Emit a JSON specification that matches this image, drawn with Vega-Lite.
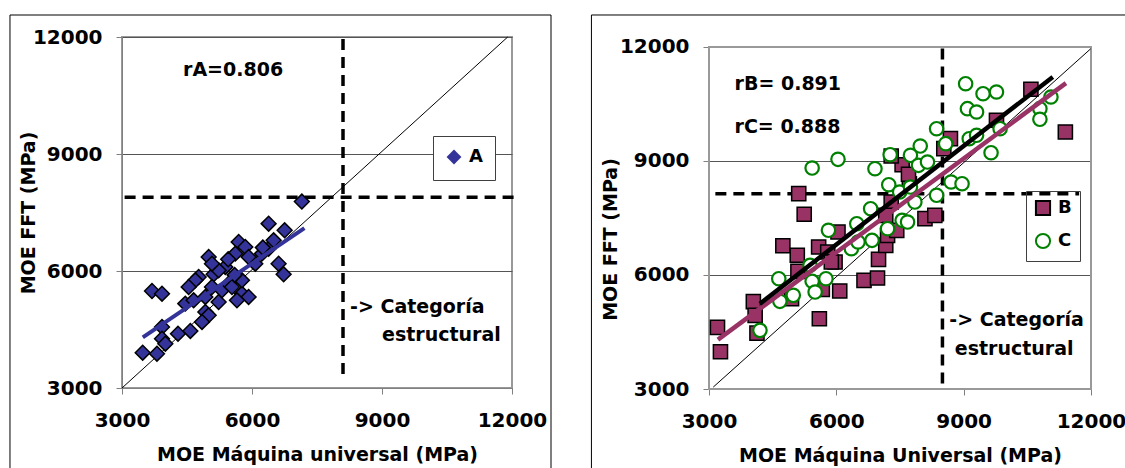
{
  "$schema": "https://vega.github.io/schema/vega-lite/v6.json",
  "background": "white",
  "padding": {"left": 8, "top": 13, "right": 0, "bottom": 0},
  "spacing": 37,
  "config": {
    "font": "DejaVu Sans",
    "view": {"stroke": "#999999", "strokeWidth": 2},
    "axis": {"labelFontSize": 20, "labelFontWeight": "bold", "labelColor": "black", "titleFontSize": 19, "titleFontWeight": "bold", "titleColor": "black", "tickColor": "#808080", "domainColor": "#808080", "tickSize": 6, "grid": false, "labelFlush": false, "labelOverlap": false, "format": "d"},
    "legend": {"labelFontSize": 18, "labelFontWeight": "bold", "labelColor": "black", "strokeColor": "#404040", "labelOffset": 6}
  },
  "resolve": {"scale": {"x": "independent", "y": "independent", "shape": "independent", "fill": "independent", "stroke": "independent"}, "legend": {"shape": "independent", "fill": "independent", "stroke": "independent"}},
  "datasets": {
    "A": [
      {"serie": "A", "x": 7150, "y": 7780}, {"serie": "A", "x": 6384, "y": 7214}, {"serie": "A", "x": 6753, "y": 7043}, {"serie": "A", "x": 5692, "y": 6744},
      {"serie": "A", "x": 5845, "y": 6616}, {"serie": "A", "x": 5615, "y": 6445}, {"serie": "A", "x": 5000, "y": 6359}, {"serie": "A", "x": 6384, "y": 6573},
      {"serie": "A", "x": 6614, "y": 6188}, {"serie": "A", "x": 6730, "y": 5915}, {"serie": "A", "x": 5115, "y": 5915}, {"serie": "A", "x": 4769, "y": 5846},
      {"serie": "A", "x": 4692, "y": 5761}, {"serie": "A", "x": 4538, "y": 5590}, {"serie": "A", "x": 5384, "y": 6103}, {"serie": "A", "x": 5768, "y": 5419},
      {"serie": "A", "x": 5922, "y": 5334}, {"serie": "A", "x": 5653, "y": 5248}, {"serie": "A", "x": 5230, "y": 5205}, {"serie": "A", "x": 3692, "y": 5487},
      {"serie": "A", "x": 3923, "y": 5419}, {"serie": "A", "x": 4461, "y": 5163}, {"serie": "A", "x": 4923, "y": 4949}, {"serie": "A", "x": 5000, "y": 4863},
      {"serie": "A", "x": 4846, "y": 4693}, {"serie": "A", "x": 4577, "y": 4462}, {"serie": "A", "x": 4292, "y": 4393}, {"serie": "A", "x": 3923, "y": 4564},
      {"serie": "A", "x": 3923, "y": 4265}, {"serie": "A", "x": 4000, "y": 4137}, {"serie": "A", "x": 3477, "y": 3906}, {"serie": "A", "x": 3807, "y": 3880},
      {"serie": "A", "x": 5076, "y": 5590}, {"serie": "A", "x": 5307, "y": 5504}, {"serie": "A", "x": 5461, "y": 5675}, {"serie": "A", "x": 4923, "y": 5334},
      {"serie": "A", "x": 4653, "y": 5248}, {"serie": "A", "x": 6076, "y": 6188}, {"serie": "A", "x": 6230, "y": 6445}, {"serie": "A", "x": 6499, "y": 6787},
      {"serie": "A", "x": 5538, "y": 5590}, {"serie": "A", "x": 5230, "y": 6017}, {"serie": "A", "x": 5076, "y": 6188}, {"serie": "A", "x": 5768, "y": 5761},
      {"serie": "A", "x": 5922, "y": 6359}, {"serie": "A", "x": 5600, "y": 5900}, {"serie": "A", "x": 6250, "y": 6600}, {"serie": "A", "x": 5450, "y": 6300}
    ],
    "BC": [
      {"serie": "B", "x": 3200, "y": 4620}, {"serie": "B", "x": 3270, "y": 3980}, {"serie": "B", "x": 4045, "y": 5300}, {"serie": "B", "x": 4087, "y": 4938},
      {"serie": "B", "x": 4130, "y": 4470}, {"serie": "B", "x": 4740, "y": 6770}, {"serie": "B", "x": 5080, "y": 6520}, {"serie": "B", "x": 5114, "y": 8140},
      {"serie": "B", "x": 5243, "y": 7600}, {"serie": "B", "x": 5095, "y": 6096}, {"serie": "B", "x": 4944, "y": 5375}, {"serie": "B", "x": 5600, "y": 4850},
      {"serie": "B", "x": 5583, "y": 6736}, {"serie": "B", "x": 5798, "y": 6604}, {"serie": "B", "x": 5970, "y": 6341}, {"serie": "B", "x": 6039, "y": 7131},
      {"serie": "B", "x": 6080, "y": 5580}, {"serie": "B", "x": 5670, "y": 5620}, {"serie": "B", "x": 6652, "y": 5859}, {"serie": "B", "x": 6970, "y": 5920},
      {"serie": "B", "x": 6994, "y": 6412}, {"serie": "B", "x": 7164, "y": 6781}, {"serie": "B", "x": 7207, "y": 7044}, {"serie": "B", "x": 7423, "y": 7176},
      {"serie": "B", "x": 7293, "y": 7920}, {"serie": "B", "x": 8088, "y": 7482}, {"serie": "B", "x": 8320, "y": 7570}, {"serie": "B", "x": 7721, "y": 8402},
      {"serie": "B", "x": 7550, "y": 8902}, {"serie": "B", "x": 7293, "y": 9131}, {"serie": "B", "x": 8688, "y": 9587}, {"serie": "B", "x": 8532, "y": 9324},
      {"serie": "B", "x": 9773, "y": 10071}, {"serie": "B", "x": 10584, "y": 10887}, {"serie": "B", "x": 11396, "y": 9763}, {"serie": "B", "x": 7164, "y": 7570},
      {"serie": "B", "x": 7700, "y": 8650}, {"serie": "B", "x": 5882, "y": 6341},
      {"serie": "C", "x": 4201, "y": 4543}, {"serie": "C", "x": 4644, "y": 5902}, {"serie": "C", "x": 4670, "y": 5307}, {"serie": "C", "x": 4986, "y": 5465},
      {"serie": "C", "x": 5430, "y": 8815}, {"serie": "C", "x": 6039, "y": 9044}, {"serie": "C", "x": 5380, "y": 6254}, {"serie": "C", "x": 5430, "y": 5833},
      {"serie": "C", "x": 5500, "y": 5552}, {"serie": "C", "x": 5755, "y": 5902}, {"serie": "C", "x": 5814, "y": 7176}, {"serie": "C", "x": 6482, "y": 7350},
      {"serie": "C", "x": 6355, "y": 6691}, {"serie": "C", "x": 6808, "y": 7745}, {"serie": "C", "x": 6841, "y": 6912}, {"serie": "C", "x": 6910, "y": 8797},
      {"serie": "C", "x": 7268, "y": 9166}, {"serie": "C", "x": 7235, "y": 8376}, {"serie": "C", "x": 7492, "y": 8184}, {"serie": "C", "x": 7550, "y": 7438},
      {"serie": "C", "x": 7207, "y": 7218}, {"serie": "C", "x": 7746, "y": 9149}, {"serie": "C", "x": 7977, "y": 9394}, {"serie": "C", "x": 7935, "y": 8886},
      {"serie": "C", "x": 8147, "y": 8973}, {"serie": "C", "x": 8362, "y": 9850}, {"serie": "C", "x": 7850, "y": 7920}, {"serie": "C", "x": 7746, "y": 8315},
      {"serie": "C", "x": 8362, "y": 8097}, {"serie": "C", "x": 8577, "y": 9456}, {"serie": "C", "x": 8704, "y": 8447}, {"serie": "C", "x": 8962, "y": 8402},
      {"serie": "C", "x": 9046, "y": 11034}, {"serie": "C", "x": 9089, "y": 10377}, {"serie": "C", "x": 9304, "y": 10289}, {"serie": "C", "x": 9456, "y": 10771},
      {"serie": "C", "x": 9773, "y": 10816}, {"serie": "C", "x": 9131, "y": 9587}, {"serie": "C", "x": 9304, "y": 9676}, {"serie": "C", "x": 9645, "y": 9218},
      {"serie": "C", "x": 9858, "y": 9850}, {"serie": "C", "x": 10796, "y": 10377}, {"serie": "C", "x": 10796, "y": 10097}, {"serie": "C", "x": 11056, "y": 10684},
      {"serie": "C", "x": 7678, "y": 7394}, {"serie": "C", "x": 6511, "y": 6868}
    ],
    "segs": [
      {"id": "izq_diag", "x": 3000, "y": 3000, "x2": 11900, "y2": 12000},
      {"id": "izq_fitA", "x": 3480, "y": 4300, "x2": 7210, "y2": 7100},
      {"id": "izq_v", "x": 8100, "y": 11950, "x2": 8100, "y2": 3240},
      {"id": "izq_h", "x": 3060, "y": 7890, "x2": 12070, "y2": 7890},
      {"id": "der_diag", "x": 3100, "y": 3050, "x2": 11990, "y2": 11950},
      {"id": "der_fitB", "x": 3210, "y": 4300, "x2": 11410, "y2": 11050},
      {"id": "der_fitC", "x": 4200, "y": 5245, "x2": 11100, "y2": 11210},
      {"id": "der_v", "x": 8500, "y": 11960, "x2": 8500, "y2": 3100},
      {"id": "der_h", "x": 3150, "y": 8140, "x2": 11720, "y2": 8140}
    ],
    "marcos": [
      {"panel": "izq", "x": 415, "x2": 12900, "y": 700, "y2": 12564},
      {"panel": "der", "x": 230, "x2": 12978, "y": 658, "y2": 12842},
      {"panel": "der_area", "x": 3000, "x2": 12000, "y": 3000, "y2": 12000}
    ],
    "notes": [
      {"panel": "izq", "text": "rA=0.806", "x": 4408, "y": 11154},
      {"panel": "izq", "text": "-> Categoría", "x": 8262, "y": 5077},
      {"panel": "izq", "text": "estructural", "x": 9001, "y": 4359},
      {"panel": "der", "text": "rB= 0.891", "x": 3602, "y": 11026},
      {"panel": "der", "text": "rC= 0.888", "x": 3602, "y": 9894},
      {"panel": "der", "text": "-> Categoría", "x": 8662, "y": 4815},
      {"panel": "der", "text": "estructural", "x": 8791, "y": 4051}
    ]
  },
  "hconcat": [
    {
      "width": 390,
      "height": 351,
      "encoding": {
        "x": {"field": "x", "type": "quantitative", "scale": {"domain": [3000, 12000], "nice": false, "zero": false, "clamp": false}, "axis": {"values": [3000, 6000, 9000, 12000], "title": "MOE Máquina universal (MPa)", "labelPadding": 16, "titlePadding": 15}},
        "y": {"field": "y", "type": "quantitative", "scale": {"domain": [3000, 12000], "nice": false, "zero": false, "clamp": false}, "axis": {"values": [3000, 6000, 9000, 12000], "title": "MOE FFT (MPa)", "grid": true, "gridColor": "#555555", "gridWidth": 1, "labelPadding": 14, "titlePadding": -6}}
      },
      "layer": [
        {"data": {"name": "marcos"}, "transform": [{"filter": "datum.panel == 'izq'"}], "mark": {"type": "rect", "fill": "transparent", "stroke": "black", "strokeWidth": 1, "clip": false}, "encoding": {"x2": {"field": "x2"}, "y2": {"field": "y2"}}},
        {"data": {"name": "segs"}, "transform": [{"filter": "datum.id == 'izq_v' || datum.id == 'izq_h'"}], "mark": {"type": "rule", "color": "black", "strokeWidth": 3.5, "strokeDash": [11, 7], "clip": false}, "encoding": {"x2": {"field": "x2"}, "y2": {"field": "y2"}}},
        {"data": {"name": "segs"}, "transform": [{"filter": "datum.id == 'izq_diag'"}], "mark": {"type": "rule", "color": "black", "strokeWidth": 1}, "encoding": {"x2": {"field": "x2"}, "y2": {"field": "y2"}}},
        {"data": {"name": "A"}, "mark": {"type": "point", "filled": true, "stroke": "black", "strokeWidth": 1.5, "size": 220, "opacity": 1},
         "encoding": {
           "shape": {"field": "serie", "type": "nominal", "scale": {"domain": ["A"], "range": ["diamond"]}, "legend": {"title": null, "orient": "none", "legendX": 311, "legendY": 99, "padding": 12, "symbolSize": 220, "symbolStrokeColor": "black", "symbolStrokeWidth": 1.5, "fillColor": "white"}},
           "fill": {"field": "serie", "type": "nominal", "scale": {"domain": ["A"], "range": ["#333399"]}, "legend": {"title": null, "orient": "none", "legendX": 311, "legendY": 99, "padding": 12, "symbolSize": 220, "symbolStrokeColor": "black", "symbolStrokeWidth": 1.5, "fillColor": "white"}}
         }},
        {"data": {"name": "segs"}, "transform": [{"filter": "datum.id == 'izq_fitA'"}], "mark": {"type": "rule", "color": "#333399", "strokeWidth": 4}, "encoding": {"x2": {"field": "x2"}, "y2": {"field": "y2"}}},
        {"data": {"name": "notes"}, "transform": [{"filter": "datum.panel == 'izq'"}], "mark": {"type": "text", "align": "left", "baseline": "middle", "fontSize": 19, "fontWeight": "bold", "color": "black"}, "encoding": {"text": {"field": "text"}}}
      ]
    },
    {
      "width": 382,
      "height": 352,
      "view": {"stroke": null},
      "encoding": {
        "x": {"field": "x", "type": "quantitative", "scale": {"domain": [3000, 12000], "nice": false, "zero": false, "clamp": false}, "axis": {"values": [3000, 6000, 9000, 12000], "title": "MOE Máquina Universal (MPa)", "labelPadding": 16, "titlePadding": 15}},
        "y": {"field": "y", "type": "quantitative", "scale": {"domain": [3000, 12263], "nice": false, "zero": false, "clamp": false}, "axis": {"values": [3000, 6000, 9000, 12000], "title": "MOE FFT (MPa)", "grid": true, "gridColor": "#555555", "gridWidth": 1, "domain": false, "labelPadding": 14, "titlePadding": -1, "titleY": 202}}
      },
      "layer": [
        {"data": {"name": "marcos"}, "transform": [{"filter": "datum.panel == 'der'"}], "mark": {"type": "rect", "fill": "transparent", "stroke": "black", "strokeWidth": 1, "clip": false}, "encoding": {"x2": {"field": "x2"}, "y2": {"field": "y2"}}},
        {"data": {"name": "marcos"}, "transform": [{"filter": "datum.panel == 'der_area'"}], "mark": {"type": "rect", "fill": "transparent", "stroke": "#999999", "strokeWidth": 2}, "encoding": {"x2": {"field": "x2"}, "y2": {"field": "y2"}}},
        {"data": {"name": "segs"}, "transform": [{"filter": "datum.id == 'der_v' || datum.id == 'der_h'"}], "mark": {"type": "rule", "color": "black", "strokeWidth": 3.5, "strokeDash": [11, 7]}, "encoding": {"x2": {"field": "x2"}, "y2": {"field": "y2"}}},
        {"data": {"name": "segs"}, "transform": [{"filter": "datum.id == 'der_diag'"}], "mark": {"type": "rule", "color": "black", "strokeWidth": 1}, "encoding": {"x2": {"field": "x2"}, "y2": {"field": "y2"}}},
        {"data": {"name": "BC"}, "transform": [{"filter": "datum.serie == 'B'"}], "mark": {"type": "point", "filled": true, "strokeWidth": 1.5, "size": 200, "opacity": 1},
         "encoding": {
           "shape": {"field": "serie", "type": "nominal", "scale": {"domain": ["B", "C"], "range": ["square", "circle"]}, "legend": {"title": null, "orient": "none", "legendX": 317, "legendY": 154, "padding": 8, "rowPadding": 9, "symbolSize": 200, "symbolStrokeWidth": 2}},
           "fill": {"field": "serie", "type": "nominal", "scale": {"domain": ["B", "C"], "range": ["#993366", "white"]}, "legend": {"title": null, "orient": "none", "legendX": 317, "legendY": 154, "padding": 8, "rowPadding": 9, "symbolSize": 200, "symbolStrokeWidth": 2}},
           "stroke": {"field": "serie", "type": "nominal", "scale": {"domain": ["B", "C"], "range": ["black", "#008000"]}, "legend": {"title": null, "orient": "none", "legendX": 317, "legendY": 154, "padding": 8, "rowPadding": 9, "symbolSize": 200, "symbolStrokeWidth": 2}}
         }},
        {"data": {"name": "BC"}, "transform": [{"filter": "datum.serie == 'C'"}], "mark": {"type": "point", "filled": true, "strokeWidth": 2.2, "size": 180, "opacity": 1},
         "encoding": {
           "shape": {"field": "serie", "type": "nominal", "scale": {"domain": ["B", "C"], "range": ["square", "circle"]}, "legend": {"title": null, "orient": "none", "legendX": 317, "legendY": 154, "padding": 8, "rowPadding": 9, "symbolSize": 200, "symbolStrokeWidth": 2}},
           "fill": {"field": "serie", "type": "nominal", "scale": {"domain": ["B", "C"], "range": ["#993366", "white"]}, "legend": {"title": null, "orient": "none", "legendX": 317, "legendY": 154, "padding": 8, "rowPadding": 9, "symbolSize": 200, "symbolStrokeWidth": 2}},
           "stroke": {"field": "serie", "type": "nominal", "scale": {"domain": ["B", "C"], "range": ["black", "#008000"]}, "legend": {"title": null, "orient": "none", "legendX": 317, "legendY": 154, "padding": 8, "rowPadding": 9, "symbolSize": 200, "symbolStrokeWidth": 2}}
         }},
        {"data": {"name": "segs"}, "transform": [{"filter": "datum.id == 'der_fitB'"}], "mark": {"type": "rule", "color": "#993366", "strokeWidth": 4.5}, "encoding": {"x2": {"field": "x2"}, "y2": {"field": "y2"}}},
        {"data": {"name": "segs"}, "transform": [{"filter": "datum.id == 'der_fitC'"}], "mark": {"type": "rule", "color": "black", "strokeWidth": 4.5}, "encoding": {"x2": {"field": "x2"}, "y2": {"field": "y2"}}},
        {"data": {"name": "notes"}, "transform": [{"filter": "datum.panel == 'der'"}], "mark": {"type": "text", "align": "left", "baseline": "middle", "fontSize": 19, "fontWeight": "bold", "color": "black"}, "encoding": {"text": {"field": "text"}}}
      ]
    }
  ]
}
